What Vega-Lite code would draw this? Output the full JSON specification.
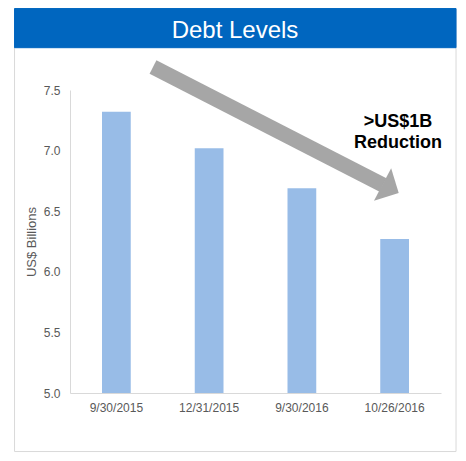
{
  "$schema": "https://vega.github.io/schema/vega-lite/v6.json",
  "width": 371,
  "height": 303,
  "autosize": "none",
  "padding": {"left": 70, "top": 90, "right": 25, "bottom": 68},
  "background": "white",
  "config": {
    "view": {"stroke": null},
    "font": "Liberation Sans"
  },
  "layer": [
    {
      "data": {"values": [
        {"part": "frame", "left": -0.598, "right": 4.162, "top": 8.172, "bottom": 4.517},
        {"part": "header", "left": -0.598, "right": 4.162, "top": 8.172, "bottom": 7.849}
      ]},
      "mark": {"type": "rect", "strokeWidth": 1},
      "encoding": {
        "x": {"field": "left", "type": "quantitative", "scale": {"domain": [0, 4]}, "axis": null},
        "x2": {"field": "right"},
        "y": {"field": "top", "type": "quantitative"},
        "y2": {"field": "bottom"},
        "fill": {
          "field": "part", "type": "nominal",
          "scale": {"domain": ["frame", "header"], "range": ["rgba(255,255,255,0)", "#0066BF"]},
          "legend": null
        },
        "stroke": {
          "field": "part", "type": "nominal",
          "scale": {"domain": ["frame", "header"], "range": ["#d9d9d9", "#0066BF"]},
          "legend": null
        }
      }
    },
    {
      "data": {"values": [{"label": "Debt Levels", "px": 1.779, "py": 7.927}]},
      "mark": {"type": "text", "align": "center", "baseline": "alphabetic", "fontSize": 24, "color": "white"},
      "encoding": {
        "x": {"field": "px", "type": "quantitative", "scale": {"domain": [0, 4]}, "axis": null},
        "y": {"field": "py", "type": "quantitative"},
        "text": {"field": "label"}
      }
    },
    {
      "data": {"values": [
        {"date": "9/30/2015", "debt": 7.32},
        {"date": "12/31/2015", "debt": 7.02},
        {"date": "9/30/2016", "debt": 6.69},
        {"date": "10/26/2016", "debt": 6.27}
      ]},
      "mark": {"type": "bar", "color": "#98BCE7"},
      "encoding": {
        "x": {
          "field": "date", "type": "nominal", "sort": null,
          "scale": {"paddingInner": 0.69, "paddingOuter": 0.345},
          "axis": {
            "title": null, "labelAngle": 0, "ticks": false, "tickSize": 0,
            "labelPadding": 9, "labelFontSize": 12, "labelColor": "#595959",
            "domainColor": "#d9d9d9", "zindex": 1
          }
        },
        "y": {
          "field": "debt", "type": "quantitative",
          "scale": {"domain": [5, 7.5], "zero": false, "nice": false},
          "axis": {
            "title": "US$ Billions", "values": [5, 5.5, 6, 6.5, 7, 7.5], "format": ".1f",
            "grid": false, "ticks": false, "tickSize": 0, "labelPadding": 10,
            "labelFontSize": 12, "labelColor": "#595959", "domainColor": "#d9d9d9",
            "titleFontSize": 13, "titleFontWeight": "normal", "titleColor": "#595959",
            "titlePadding": 5, "zindex": 1
          }
        },
        "y2": {"datum": 5}
      }
    },
    {
      "data": {"values": [{"x0": 0.895, "y0": 7.69, "x1": 3.375, "y1": 6.716}]},
      "mark": {"type": "rule", "color": "#A6A6A6", "strokeWidth": 15, "strokeCap": "butt"},
      "encoding": {
        "x": {"field": "x0", "type": "quantitative", "scale": {"domain": [0, 4]}, "axis": null},
        "x2": {"field": "x1"},
        "y": {"field": "y0", "type": "quantitative"},
        "y2": {"field": "y1"}
      }
    },
    {
      "data": {"values": [{"hx": 3.457, "hy": 6.685}]},
      "mark": {
        "type": "point", "filled": true, "color": "#A6A6A6", "opacity": 1,
        "shape": "M-0.5,-1L0.5,0L-0.5,1Z", "size": 1340, "angle": 28
      },
      "encoding": {
        "x": {"field": "hx", "type": "quantitative", "scale": {"domain": [0, 4]}, "axis": null},
        "y": {"field": "hy", "type": "quantitative"}
      }
    },
    {
      "data": {"values": [{"note": [">US$1B", "Reduction"], "nx": 3.536, "ny": 7.192}]},
      "mark": {
        "type": "text", "align": "center", "baseline": "alphabetic",
        "fontSize": 18, "fontWeight": "bold", "lineHeight": 21, "color": "black"
      },
      "encoding": {
        "x": {"field": "nx", "type": "quantitative", "scale": {"domain": [0, 4]}, "axis": null},
        "y": {"field": "ny", "type": "quantitative"},
        "text": {"field": "note"}
      }
    }
  ],
  "resolve": {"scale": {"x": "independent", "fill": "independent", "stroke": "independent"}, "axis": {"x": "independent"}}
}
